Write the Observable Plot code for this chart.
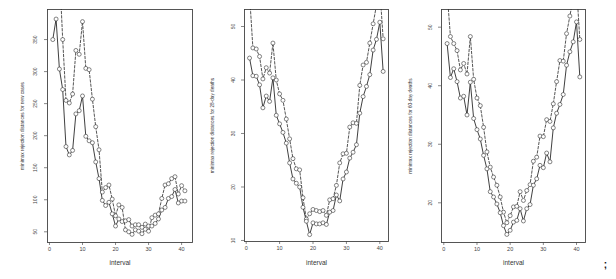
<!DOCTYPE html>
<html><head><meta charset="utf-8">
<script src="https://cdn.jsdelivr.net/npm/d3@7"></script>
<script src="https://cdn.jsdelivr.net/npm/@observablehq/plot@0.6"></script>
<style>
body{margin:0;background:#fff;}
#wrap{position:relative;width:616px;height:279px;overflow:hidden;font-family:"Liberation Sans",Arial,sans-serif;background:#fff;}
#wrap svg{position:absolute;left:0;top:0;}
</style></head><body><div id="wrap"></div>
<script>
const interval = d3.range(1, 42);
const xTicks = [0, 10, 20, 30, 40];

const newCasesSolid = [350,382,304,272,183,170,177,234,239,262,199,192,189,159,133,99,91,96,78,59,70,66,67,69,59,61,61,57,62,59,59,63,70,84,88,102,105,116,95,98,98];
const newCasesDashed = [500,480,460,350,255,251,265,333,327,378,305,303,257,214,178,112,119,123,101,75,92,88,53,50,46,53,51,47,54,51,72,76,78,102,123,125,133,136,109,122,114];
const newCasesTicks = [50,100,150,200,250,300,350];

const deaths28Solid = [44.1,40.8,40.7,39.1,34.8,37,36,40.4,33.4,31.8,30.2,28.2,24.5,21.5,20.7,20,16.2,13.6,11.1,13.3,13.1,13.1,13.3,13,15.3,15.6,18.5,17.4,21.5,22.8,25.4,26.5,27.9,33.8,36.9,38.8,41,45.6,47.6,50.8,41.6];
const deaths28Dashed = [56,46,45.8,44.4,40.2,42.3,41.3,46.9,40,37.4,36.2,32.7,29,25.3,23.4,23.2,18,14,15,15.8,15.6,15.4,15.6,14.7,17.6,17.8,20.3,24.5,26.2,26.3,31.2,32,31.9,39,42.8,43.3,46.9,50.5,54,57,47.7];
const deaths28Ticks = [10,20,30,40,50];

const deaths60Solid = [47.2,41.4,42.9,40.7,37.9,38.2,35,40.6,34.4,32.5,30.9,28.1,25.8,21.9,21,19.8,18.3,16.1,14.6,15.3,16.7,17,19,16.9,19,19.7,23,24.1,26.4,26,28.5,27,32.8,35.3,36.8,38.5,43.5,45.8,47.5,50.9,41.5];
const deaths60Dashed = [56,48.4,47.2,46,42.7,43.8,42,48.4,41.1,37.9,36.6,32.9,28.7,26.1,24.4,23,21,18.4,16.6,17.8,19.3,19.4,21.9,20.4,22.1,23.1,27.1,27.8,31.4,31.3,34.2,33.9,36.9,40.7,44.3,44.2,48.9,51.9,55,57,47.9];
const deaths60Ticks = [20,30,40,50];

const titles = [
  "minimax rejection distances for new cases",
  "minimax rejection distances for 28-day deaths",
  "minimax rejection distances for 60-day deaths"
];
const xLabel = "interval";
const trailing = [";"];

const W = 616, H = 279;
const ink = "#2a2a2a";

function panel({solid, dashed, yTicks, title, frame, xDomain, yDomain, tickDx, titleDx, titleSize, extra = []}) {
  const [l, r, t, b] = frame;
  const rows = interval.map((x, i) => ({x, s: solid[i], d: dashed[i]}));
  return Plot.plot({
    width: W, height: H,
    marginLeft: l, marginRight: W - r, marginTop: t, marginBottom: H - b,
    x: {domain: xDomain, axis: null},
    y: {domain: yDomain, axis: null},
    style: {background: "transparent", fontFamily: "'Liberation Sans', Arial, sans-serif", overflow: "visible"},
    marks: [
      Plot.axisX({ticks: xTicks, tickSize: 3, tickPadding: 2, fontSize: 5.5, label: null, stroke: "#555", fill: "#444", strokeWidth: 0.7}),
      Plot.axisY({ticks: yTicks, tickSize: 3, tickFormat: () => "", label: null, stroke: "#555", strokeWidth: 0.7}),
      Plot.text(yTicks, {y: d => d, text: d => String(d), frameAnchor: "left", dx: tickDx, rotate: -90, fontSize: 5, fill: "#444", textAnchor: "middle", lineAnchor: "middle"}),
      Plot.frame({stroke: "#444", strokeWidth: 0.9}),
      Plot.line(rows, {x: "x", y: "d", stroke: ink, strokeWidth: 0.8, strokeDasharray: "2.5,1.8", clip: true}),
      Plot.line(rows, {x: "x", y: "s", stroke: ink, strokeWidth: 0.9, clip: true}),
      Plot.dot(rows, {x: "x", y: "d", r: 2, stroke: "#333", strokeWidth: 0.6, fill: "white", clip: true}),
      Plot.dot(rows, {x: "x", y: "s", r: 2, stroke: "#333", strokeWidth: 0.6, fill: "white", clip: true}),
      Plot.text([title], {frameAnchor: "left", dx: titleDx, rotate: -90, fontSize: titleSize, fill: "#333", textAnchor: "middle", lineAnchor: "middle"}),
      Plot.text([xLabel], {frameAnchor: "bottom", dy: 262 - b, fontSize: 6.5, fill: "#333", textAnchor: "middle", lineAnchor: "middle"}),
      ...extra
    ]
  });
}

const wrap = document.getElementById("wrap");
wrap.append(panel({solid: newCasesSolid, dashed: newCasesDashed, yTicks: newCasesTicks, title: titles[0],
  frame: [47, 192, 9, 242], xDomain: [-0.6, 43.3], yDomain: [33.3, 396.9], tickDx: -12, titleDx: -25, titleSize: 4.7}));
wrap.append(panel({solid: deaths28Solid, dashed: deaths28Dashed, yTicks: deaths28Ticks, title: titles[1],
  frame: [244, 388, 9, 241], xDomain: [-0.51, 42.6], yDomain: [9.81, 53.18], tickDx: -11, titleDx: -32, titleSize: 4.7}));
wrap.append(panel({solid: deaths60Solid, dashed: deaths60Dashed, yTicks: deaths60Ticks, title: titles[2],
  frame: [441, 585, 9, 242], xDomain: [-0.69, 42.71], yDomain: [13.22, 53.02], tickDx: -11, titleDx: -31, titleSize: 4.7,
  extra: [Plot.text(trailing, {frameAnchor: "bottom-right", dx: 20, dy: 22, fontSize: 10, fontWeight: "bold", fill: "#111", textAnchor: "middle", lineAnchor: "middle"})]}));
</script>
</body></html>
